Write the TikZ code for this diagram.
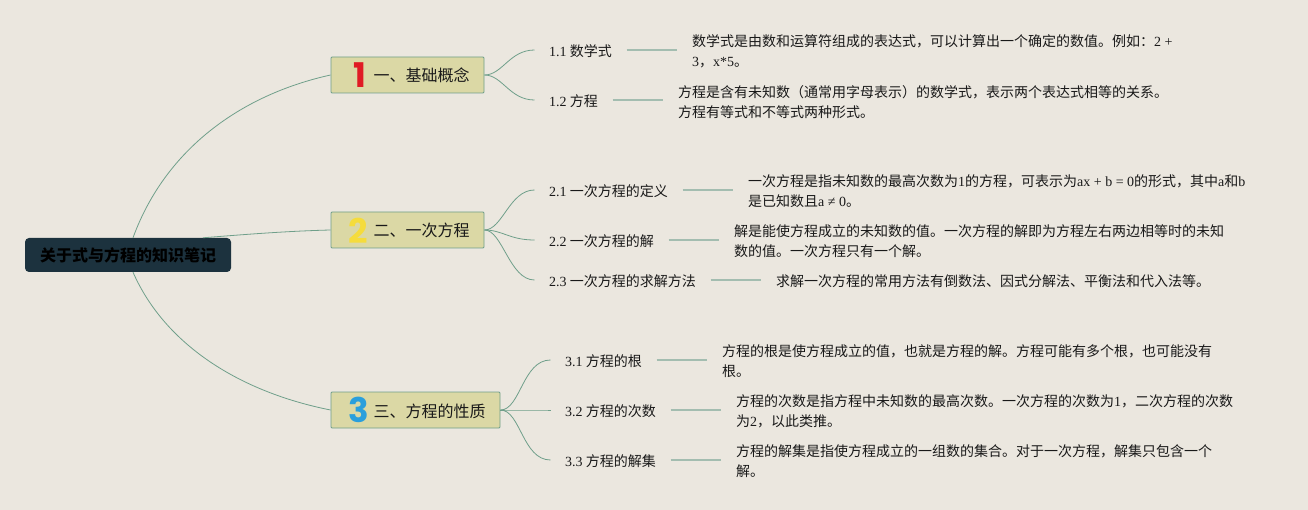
\documentclass[tikz,border=0pt]{standalone}
\usepackage{fontspec}
\setmainfont{Noto Sans CJK SC}
\newfontfamily\enfont{Liberation Serif}
\newfontfamily\numfont{Poppins}
\newcommand{\en}[1]{{\enfont #1}}
\usetikzlibrary{positioning, calc}

\definecolor{paper}{HTML}{EBE7DF}
\definecolor{rootfill}{HTML}{1C323E}
\definecolor{topicfill}{HTML}{DBD8A5}
\definecolor{linegreen}{HTML}{6F9F8A}
\definecolor{stubgreen}{HTML}{A3BDB0}

\begin{document}
\begin{tikzpicture}[
  x=1pt, y=-1pt,
  rootnode/.style={fill=rootfill, rounded corners=4pt, minimum width=206pt, minimum height=34pt, inner sep=0pt, font=\fontsize{16}{20}\selectfont\bfseries, text=black},
  topic/.style={draw=linegreen, fill=topicfill, rounded corners=1pt, line width=0.9pt, minimum height=36pt, inner xsep=14.5pt, inner ysep=0pt, text height=16pt, text depth=2pt, font=\fontsize{16}{20}\selectfont, text=black!90},
  icon/.style={inner sep=0pt, font=\fontsize{34}{34}\selectfont\numfont\bfseries},
  subnode/.style={inner xsep=14.5pt, inner ysep=0pt, anchor=west, text height=14.6pt, text depth=2pt, font=\fontsize{14}{20}\selectfont, text=black!90},
  desc/.style={inner xsep=15pt, inner ysep=0pt, anchor=west, align=left, font=\fontsize{14}{20}\selectfont, text=black!90},
  link/.style={draw=linegreen, line width=0.8pt},
  stub/.style={draw=stubgreen, line width=1.6pt}
]
\useasboundingbox[fill=paper] (0,0) rectangle (1308,510);

\node[rootnode] (root) at (128,255) {关于式与方程的知识笔记};

\node[topic] (topic1) at (407.5,75) {\hspace*{28pt}一、基础概念};
\node[topic] (topic2) at (407.5,230) {\hspace*{28pt}二、一次方程};
\node[topic] (topic3) at (415.5,410) {\hspace*{28pt}三、方程的性质};
\node[icon, text={rgb,255:red,224;green,27;blue,36}] (num1) at (359.5,75) {1};
\node[icon, text={rgb,255:red,245;green,220;blue,60}] (num2) at (358.7,231) {2};
\node[icon, text={rgb,255:red,42;green,159;blue,220}] (num3) at (358.7,410) {3};

\node[subnode] (sub11) at (534.5,50) {\en{1.1} 数学式};
\node[subnode] (sub12) at (534.5,100) {\en{1.2} 方程};
\node[subnode] (sub21) at (534.5,190) {\en{2.1} 一次方程的定义};
\node[subnode] (sub22) at (534.5,240) {\en{2.2} 一次方程的解};
\node[subnode] (sub23) at (534.5,280) {\en{2.3} 一次方程的求解方法};
\node[subnode] (sub31) at (550.5,360) {\en{3.1} 方程的根};
\node[subnode] (sub32) at (550.5,410) {\en{3.2} 方程的次数};
\node[subnode] (sub33) at (550.5,460) {\en{3.3} 方程的解集};

\node[desc] (desc11) at (677,51) {数学式是由数和运算符组成的表达式，可以计算出一个确定的数值。例如：\en{2 +}\\\en{3}，\en{x*5}。};
\node[desc] (desc12) at (663,102) {方程是含有未知数（通常用字母表示）的数学式，表示两个表达式相等的关系。\\方程有等式和不等式两种形式。};
\node[desc] (desc21) at (733,191) {一次方程是指未知数的最高次数为\en{1}的方程，可表示为\en{ax + b = 0}的形式，其中\en{a}和\en{b}\\是已知数且\en{a ≠ 0}。};
\node[desc] (desc22) at (719,241) {解是能使方程成立的未知数的值。一次方程的解即为方程左右两边相等时的未知\\数的值。一次方程只有一个解。};
\node[desc] (desc23) at (761,281) {求解一次方程的常用方法有倒数法、因式分解法、平衡法和代入法等。};
\node[desc] (desc31) at (707,361) {方程的根是使方程成立的值，也就是方程的解。方程可能有多个根，也可能没有\\根。};
\node[desc] (desc32) at (721,411) {方程的次数是指方程中未知数的最高次数。一次方程的次数为\en{1}，二次方程的次数\\为\en{2}，以此类推。};
\node[desc] (desc33) at (721,461) {方程的解集是指使方程成立的一组数的集合。对于一次方程，解集只包含一个\\解。};

% root to topics
\draw[link] ([xshift=5pt]root.north) .. controls (165,150) and (240,95) .. (topic1.west);
\draw[link] ([xshift=75pt]root.north) .. controls (250,234) and (290,231) .. (topic2.west);
\draw[link] ([xshift=5pt]root.south) .. controls (165,345) and (240,392) .. (topic3.west);

% topics to subtopics
\foreach \t/\s in {1/11, 1/12, 2/21, 2/22, 2/23} {
  \draw[link] (topic\t.east) .. controls +(18,0) and ($(sub\s.west)+(-25,0)$) .. (sub\s.west);
}
\foreach \s in {31, 32, 33} {
  \draw[link] (topic3.east) .. controls +(20,0) and ($(sub\s.west)+(-28,0)$) .. (sub\s.west);
}

% subtopics to notes
\foreach \s in {11, 12, 21, 22, 23, 31, 32, 33} {
  \draw[stub] (sub\s.east) -- (sub\s.east -| desc\s.west);
}
\end{tikzpicture}
\end{document}
